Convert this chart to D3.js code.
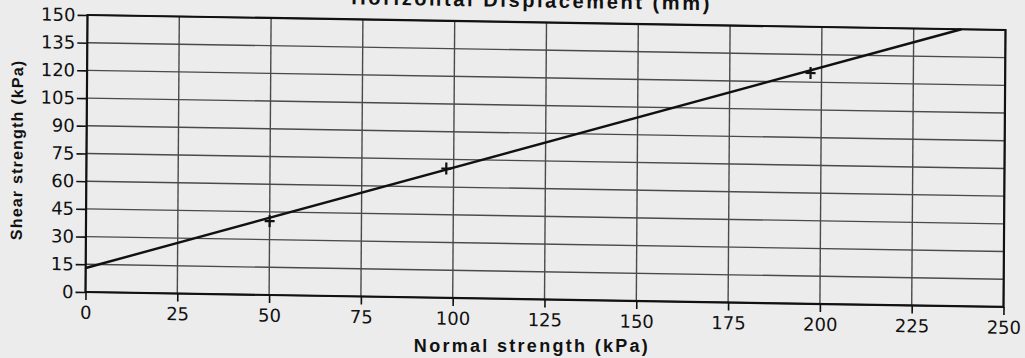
<!DOCTYPE html>
<html>
<head>
<meta charset="utf-8">
<script src="https://cdn.jsdelivr.net/npm/d3@7"></script>
<style>
  html, body { margin: 0; padding: 0; background: #ececec; overflow: hidden; }
  svg { display: block; }
  .axis text { font-family: "DejaVu Sans", sans-serif; font-size: 18px; fill: #111; }
  .axis line { stroke: #111; stroke-width: 1.6; }
  .axis path { display: none; }
  .title { font-family: "Liberation Sans", Arial, sans-serif; font-weight: bold; fill: #111; }
</style>
</head>
<body>
<div id="chart"></div>
<script>
// tick values
const xTicks = [0, 25, 50, 75, 100, 125, 150, 175, 200, 225, 250];
const yTicks = [0, 15, 30, 45, 60, 75, 90, 105, 120, 135, 150];

// direct shear test results (normal stress, shear strength at failure)
const testNormal = [50, 98, 197];
const testShear = [40, 70, 125];

// failure envelope, drawn between its two ends
const fitNormal = [0, 238];
const fitShear = [13, 150];

const W = 1025, H = 358;
const width = 918, height = 277;

const svg = d3.select('#chart')
  .append('svg')
  .attr('width', W)
  .attr('height', H);

// the reference is a photo of a printout, so the whole plot is slightly tilted
const g = svg.append('g')
  .attr('transform', 'matrix(1,0.0163,-0.0072,1,87.5,15)');

const x = d3.scaleLinear().domain([0, 250]).range([0, width]);
const y = d3.scaleLinear().domain([0, 150]).range([height, 0]);

// grid
g.append('g')
  .selectAll('line')
  .data(xTicks)
  .join('line')
  .attr('x1', d => x(d)).attr('x2', d => x(d))
  .attr('y1', 0).attr('y2', height)
  .attr('stroke', '#4a4a4a')
  .attr('stroke-width', 1.4);

g.append('g')
  .selectAll('line')
  .data(yTicks)
  .join('line')
  .attr('x1', 0).attr('x2', width)
  .attr('y1', d => y(d)).attr('y2', d => y(d))
  .attr('stroke', '#4a4a4a')
  .attr('stroke-width', 1.4);

// frame
g.append('rect')
  .attr('width', width)
  .attr('height', height)
  .attr('fill', 'none')
  .attr('stroke', '#111')
  .attr('stroke-width', 2.2);

// axes
g.append('g')
  .attr('class', 'axis')
  .attr('transform', `translate(0,${height})`)
  .call(d3.axisBottom(x).tickValues(xTicks).tickSize(8).tickPadding(6));

g.append('g')
  .attr('class', 'axis')
  .call(d3.axisLeft(y).tickValues(yTicks).tickSize(10).tickPadding(2));

// failure envelope
g.append('path')
  .datum(fitNormal.map((d, i) => [d, fitShear[i]]))
  .attr('fill', 'none')
  .attr('stroke', '#111')
  .attr('stroke-width', 2.4)
  .attr('d', d3.line().x(d => x(d[0])).y(d => y(d[1])));

// test points as plus markers
const pts = testNormal.map((d, i) => ({ n: d, s: testShear[i] }));
g.append('g')
  .selectAll('path')
  .data(pts)
  .join('path')
  .attr('transform', d => `translate(${x(d.n)},${y(d.s)})`)
  .attr('d', 'M-5,0H5M0,-6V6')
  .attr('stroke', '#111')
  .attr('stroke-width', 2.2)
  .attr('fill', 'none');

// titles
svg.append('text')
  .attr('class', 'title')
  .attr('x', 532)
  .attr('y', 352)
  .attr('text-anchor', 'middle')
  .style('font-size', '18px')
  .style('letter-spacing', '2.3px')
  .text('Normal strength (kPa)');

g.append('text')
  .attr('class', 'title')
  .attr('transform', 'translate(-64,136) rotate(-90)')
  .attr('text-anchor', 'middle')
  .style('font-size', '16px')
  .style('letter-spacing', '1.2px')
  .text('Shear strength (kPa)');

// title of the chart above, cut off by the photo
g.append('text')
  .attr('class', 'title')
  .attr('x', 444)
  .attr('y', -15)
  .attr('text-anchor', 'middle')
  .style('font-size', '20px')
  .style('letter-spacing', '2.6px')
  .text('Horizontal Displacement (mm)');
</script>
</body>
</html>
